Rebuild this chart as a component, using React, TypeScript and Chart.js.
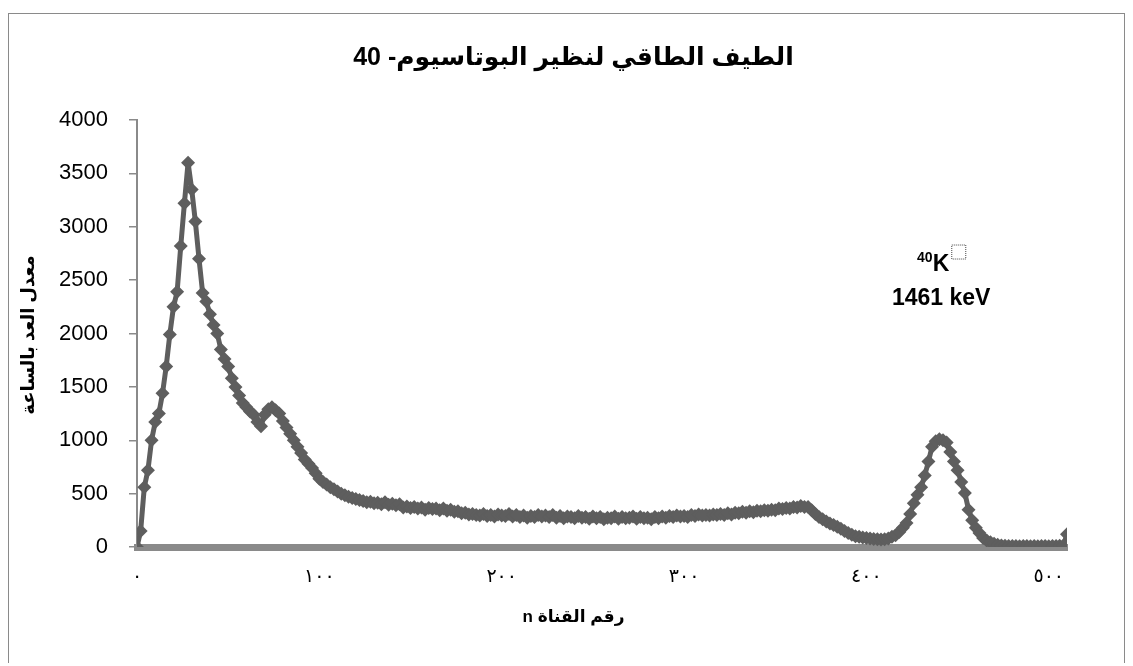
import React, { useEffect, useRef } from 'react';
import { Chart, registerables } from 'chart.js';

Chart.register(...registerables);

// ---- data ----
const CHANNEL_STEP = 2; // channels 0, 2, 4, ... 510
const counts = [
  0, 150, 560, 720, 1000, 1170, 1250, 1440, 1690, 1990,
  2250, 2390, 2820, 3220, 3600, 3350, 3050, 2700, 2380, 2300,
  2180, 2080, 2000, 1850, 1760, 1690, 1580, 1500, 1420, 1350,
  1310, 1270, 1240, 1170, 1130, 1240, 1290, 1310, 1280, 1250,
  1180, 1120, 1060, 1000, 940, 880, 820, 780, 740, 690,
  640, 610, 585, 560, 540, 520, 500, 485, 470, 460,
  450, 440, 430, 420, 425, 410, 415, 400, 420, 395,
  405, 390, 400, 370, 380, 365, 375, 360, 370, 350,
  365, 355, 360, 345, 360, 340, 350, 330, 335, 315,
  320, 305, 310, 300, 295, 310, 290, 300, 285, 305,
  295, 290, 310, 285, 300, 280, 295, 275, 290, 280,
  300, 285, 295, 280, 300, 275, 290, 270, 285, 280,
  270, 290, 275, 280, 265, 285, 270, 280, 260, 275,
  270, 285, 265, 280, 270, 275, 285, 265, 280, 270,
  275, 260, 280, 270, 285, 275, 290, 280, 295, 285,
  290, 280, 300, 290, 305, 295, 300, 295, 305, 300,
  310, 300, 315, 305, 320, 315, 330, 320, 335, 325,
  340, 335, 345, 340, 350, 345, 360, 355, 365, 360,
  375, 370, 385, 375, 375, 345, 310, 280, 260, 240,
  220, 205, 190, 170, 150, 130, 115, 100, 95, 90,
  85, 80, 75, 72, 70, 72, 80, 95, 110, 140,
  180, 225, 310, 410, 490, 560, 670, 800, 940, 990,
  1010, 1000, 980, 890, 800, 720, 610, 505, 350, 250,
  180, 130, 85, 60, 45, 30, 20, 15, 12, 10,
  9, 10, 8, 9, 10, 8, 9, 8, 10, 9,
  8, 10, 9, 12, 15, 120,
];

const xMin = 0;
const xMax = 510;
const yMin = 0;
const yMax = 4000;
const yStep = 500;
const xTickValues = [0, 100, 200, 300, 400, 500];
const xTickLabels = ['٠', '١٠٠', '٢٠٠', '٣٠٠', '٤٠٠', '٥٠٠'];

const titleText = 'الطيف الطاقي لنظير البوتاسيوم- 40';
const yTitleText = 'معدل العد بالساعة';
const xTitleText = 'رقم القناة n';
const peakMassNumber = '40';
const peakElement = 'K';
const peakEnergyText = '1461 keV';
const peakLabelChannel = 441;
const peakIsotopeLabelValue = 2590;
const peakEnergyLabelValue = 2330;

const LINE_COLOR = '#5e5e5e';
const AXIS_COLOR = '#8a8a8a';
const ARABIC_FONT = '"Liberation Sans", "DejaVu Sans", sans-serif';

export default function App() {
  const ref = useRef<HTMLCanvasElement>(null);

  useEffect(() => {
    const canvas = ref.current;
    if (!canvas) return;

    const points = counts.map((c, i) => ({ x: i * CHANNEL_STEP, y: c }));

    const textPlugin = {
      id: 'textOverlay',
      afterDraw(chart: any) {
        const ctx = chart.ctx as CanvasRenderingContext2D;
        const xs = chart.scales.x;
        const ys = chart.scales.y;
        ctx.save();
        // outer frame
        ctx.strokeStyle = AXIS_COLOR;
        ctx.lineWidth = 1;
        ctx.strokeRect(0.5, 5.5, chart.width - 1, chart.height - 4);

        ctx.fillStyle = '#000';
        (ctx as any).direction = 'rtl';
        ctx.textAlign = 'center';
        ctx.textBaseline = 'middle';

        // title
        ctx.font = `bold 25px ${ARABIC_FONT}`;
        ctx.fillText(titleText, chart.width / 2 + 7, 50);

        // x title
        ctx.font = `bold 17px ${ARABIC_FONT}`;
        ctx.fillText(xTitleText, chart.width / 2 + 7, 609);

        // y title
        ctx.save();
        ctx.translate(21, 327);
        ctx.rotate(-Math.PI / 2);
        ctx.font = `bold 18px ${ARABIC_FONT}`;
        ctx.fillText(yTitleText, 0, 0);
        ctx.restore();

        // peak annotation
        (ctx as any).direction = 'ltr';
        const px = xs.getPixelForValue(peakLabelChannel);
        const pyIso = ys.getPixelForValue(peakIsotopeLabelValue);
        const pyEn = ys.getPixelForValue(peakEnergyLabelValue);
        ctx.textBaseline = 'alphabetic';
        ctx.font = 'bold 23px "Liberation Sans", sans-serif';
        const kW = ctx.measureText(peakElement).width;
        ctx.font = 'bold 14px "Liberation Sans", sans-serif';
        const mW = ctx.measureText(peakMassNumber).width;
        const startX = px - 8 - (kW + mW) / 2;
        ctx.textAlign = 'left';
        ctx.fillText(peakMassNumber, startX, pyIso - 9);
        ctx.font = 'bold 23px "Liberation Sans", sans-serif';
        ctx.fillText(peakElement, startX + mW, pyIso);
        // dotted placeholder box
        ctx.save();
        ctx.setLineDash([1, 1]);
        ctx.strokeStyle = '#444';
        ctx.lineWidth = 1;
        ctx.strokeRect(startX + mW + kW + 2.5, pyIso - 25.5, 14, 14);
        ctx.restore();

        ctx.textAlign = 'center';
        ctx.textBaseline = 'middle';
        ctx.font = 'bold 23px "Liberation Sans", sans-serif';
        ctx.fillText(peakEnergyText, px, pyEn);
        ctx.restore();
      },
    };

    const chart = new Chart(canvas, {
      type: 'line',
      data: {
        datasets: [
          {
            data: points,
            borderColor: LINE_COLOR,
            backgroundColor: LINE_COLOR,
            borderWidth: 5,
            borderJoinStyle: 'round',
            borderCapStyle: 'round',
            pointStyle: 'rectRot',
            pointRadius: 7,
            pointBorderWidth: 0,
            pointBackgroundColor: LINE_COLOR,
            tension: 0,
            fill: false,
          },
        ],
      },
      options: {
        responsive: false,
        animation: false,
        devicePixelRatio: 1,
        layout: { padding: { top: 112, right: 58, bottom: 56, left: 0 } },
        plugins: {
          legend: { display: false },
          title: { display: false },
          tooltip: { enabled: false },
        },
        scales: {
          x: {
            type: 'linear',
            min: xMin,
            max: xMax,
            afterFit(scale: any) {
              scale.height = 60;
            },
            afterBuildTicks(scale: any) {
              scale.ticks = xTickValues.map((v) => ({ value: v }));
            },
            border: { display: true, color: AXIS_COLOR, width: 7 },
            grid: { display: true, drawOnChartArea: false, drawTicks: false },
            ticks: {
              padding: 19,
              maxRotation: 0,
              autoSkip: false,
              color: '#000',
              font: { size: 19, family: '"DejaVu Sans", sans-serif' },
              callback: (_v: any, i: number) => xTickLabels[i],
            },
          },
          y: {
            type: 'linear',
            min: yMin,
            max: yMax,
            afterFit(scale: any) {
              scale.width = 129;
            },
            border: { display: true, color: AXIS_COLOR, width: 2 },
            grid: {
              display: true,
              drawOnChartArea: false,
              drawTicks: true,
              tickLength: 8,
              color: AXIS_COLOR,
              lineWidth: 1.5,
            },
            ticks: {
              stepSize: yStep,
              padding: 21,
              color: '#000',
              font: { size: 22, family: '"Liberation Sans", sans-serif' },
              callback: (v: any) => String(v),
            },
          },
        },
      },
      plugins: [textPlugin],
    });

    return () => chart.destroy();
  }, []);

  return (
    <div style={{ width: 1117, height: 655 }}>
      <canvas ref={ref} width={1117} height={655} style={{ display: 'block', width: 1117, height: 655 }} />
    </div>
  );
}
